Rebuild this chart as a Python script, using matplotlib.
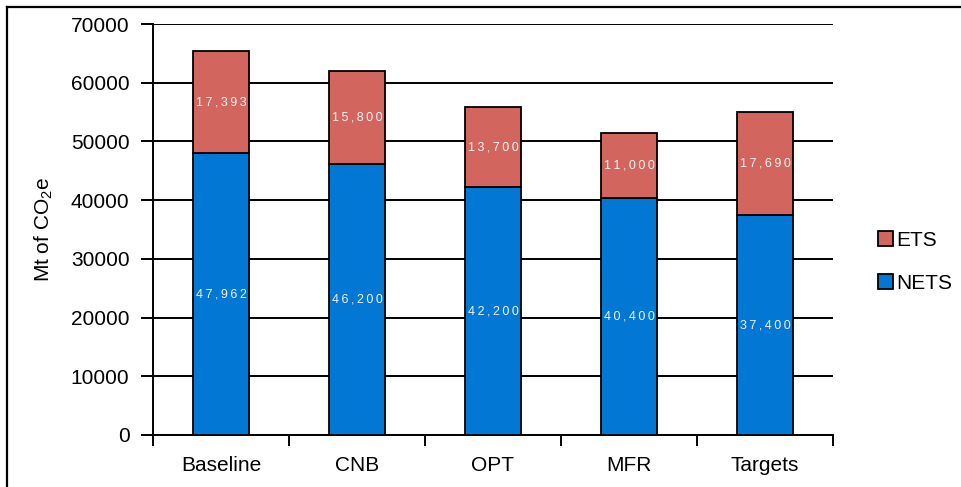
import matplotlib
matplotlib.use("Agg")
import matplotlib.pyplot as plt
from matplotlib.patches import Patch
from matplotlib.lines import Line2D

plt.rcParams["font.family"] = ["Liberation Sans", "DejaVu Sans"]
plt.rcParams["mathtext.fontset"] = "custom"
plt.rcParams["mathtext.rm"] = "Liberation Sans"
plt.rcParams["mathtext.it"] = "Liberation Sans:italic"
plt.rcParams["mathtext.bf"] = "Liberation Sans:bold"

scenarios = ["Baseline", "CNB", "OPT", "MFR", "Targets"]
nets = [47962, 46200, 42200, 40400, 37400]
ets = [17393, 15800, 13700, 11000, 17690]

nets_color = "#0377D4"
ets_color = "#D2665F"
label_color = "#F2F2F2"

fig = plt.figure(figsize=(9.62, 4.87), dpi=100)
ax = fig.add_axes([153 / 962, 1 - 435 / 487, 680 / 962, 411 / 487])

x = list(range(len(scenarios)))
width = 0.41
b1 = ax.bar(x, nets, width, color=nets_color, edgecolor="black", linewidth=1.3, zorder=3)
b2 = ax.bar(x, ets, width, bottom=nets, color=ets_color, edgecolor="black", linewidth=1.3, zorder=3)


def spaced(v):
    # widen the value labels with thin spaces between characters
    return "\u2009".join(f"{v:,}")


for bars, vals in ((b1, nets), (b2, ets)):
    for rect, v in zip(bars, vals):
        ax.text(rect.get_x() + rect.get_width() / 2,
                rect.get_y() + rect.get_height() / 2,
                spaced(v), ha="center", va="center", color=label_color,
                fontsize=9, zorder=4)

ax.set_xlim(-0.5, len(scenarios) - 0.5)
ax.set_ylim(0, 70000)
ax.set_yticks(range(0, 70001, 10000))
ax.yaxis.grid(True, color="black", linewidth=1.4, zorder=0)
ax.set_axisbelow(True)

ax.set_xticks([i - 0.5 for i in range(len(scenarios) + 1)])
ax.set_xticklabels([])
ax.set_xticks(x, minor=True)
ax.set_xticklabels(scenarios, minor=True, fontsize=15)
ax.tick_params(axis="x", which="major", length=8, width=1.4, direction="out")
ax.tick_params(axis="x", which="minor", length=0, pad=15)
ax.tick_params(axis="y", length=9, width=1.4, labelsize=15, pad=8)

for s in ("top", "right"):
    ax.spines[s].set_visible(False)
for s in ("left", "bottom"):
    ax.spines[s].set_linewidth(1.4)

ax.set_ylabel("Mt of CO$_2$e", fontsize=15)
ax.yaxis.set_label_coords(-0.144, 0.5)

handles = [Patch(facecolor=ets_color, edgecolor="black", linewidth=1.3, label="ETS"),
           Patch(facecolor=nets_color, edgecolor="black", linewidth=1.3, label="NETS")]
fig.legend(handles=handles, loc="center left", bbox_to_anchor=(878 / 962, 1 - 262 / 487),
           frameon=False, fontsize=15, handlelength=0.72, handleheight=0.72,
           handletextpad=0.15, labelspacing=1.14, borderpad=0, borderaxespad=0)

# outer frame of the figure
fig.add_artist(Line2D([7 / 962, 7 / 962], [0, 1 - 7 / 487], transform=fig.transFigure,
                      color="black", linewidth=1.6))
fig.add_artist(Line2D([7 / 962, 1], [1 - 7 / 487, 1 - 7 / 487], transform=fig.transFigure,
                      color="black", linewidth=1.6))

fig.savefig("out.png", dpi=100)
